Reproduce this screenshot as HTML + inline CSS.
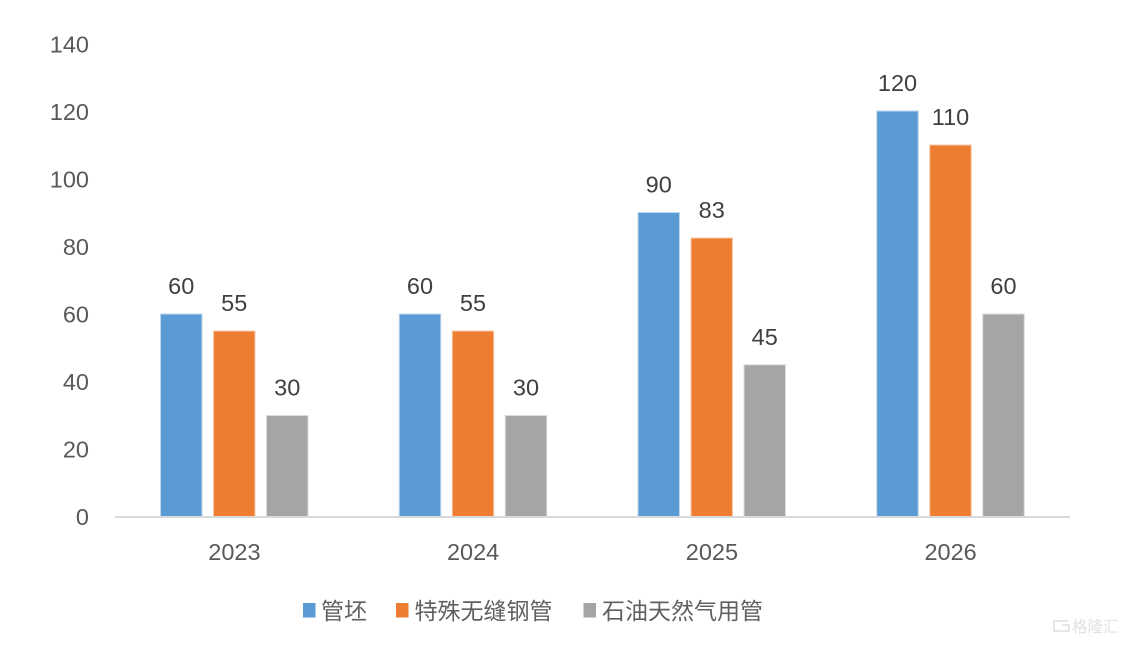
<!DOCTYPE html>
<html>
<head>
<meta charset="utf-8">
<style>
html,body{margin:0;padding:0;background:#fff;}
svg{display:block;}
.t{font-family:"Liberation Sans","Noto Sans CJK SC",sans-serif;}
</style>
</head>
<body>
<svg width="1126" height="646" viewBox="0 0 1126 646" xmlns="http://www.w3.org/2000/svg">
<rect width="1126" height="646" fill="#fff"/>
<!-- y tick labels -->
<g class="t" font-size="23.5" fill="#595959" text-anchor="end">
<text x="89" y="52.5">140</text>
<text x="89" y="120">120</text>
<text x="89" y="187.5">100</text>
<text x="89" y="255">80</text>
<text x="89" y="322.5">60</text>
<text x="89" y="390">40</text>
<text x="89" y="457.5">20</text>
<text x="89" y="525">0</text>
</g>
<!-- bars -->
<g stroke-width="1">
<rect x="160.5" y="314" width="41.5" height="203" fill="#5b9bd5" stroke="#bdd7ee"/>
<rect x="213.5" y="331" width="41.5" height="186" fill="#ed7d31" stroke="#f8cbad"/>
<rect x="266.5" y="415.5" width="41.5" height="101.5" fill="#a5a5a5" stroke="#dbdbdb"/>
<rect x="399.25" y="314" width="41.5" height="203" fill="#5b9bd5" stroke="#bdd7ee"/>
<rect x="452.25" y="331" width="41.5" height="186" fill="#ed7d31" stroke="#f8cbad"/>
<rect x="505.25" y="415.5" width="41.5" height="101.5" fill="#a5a5a5" stroke="#dbdbdb"/>
<rect x="638" y="212.5" width="41.5" height="304.5" fill="#5b9bd5" stroke="#bdd7ee"/>
<rect x="691" y="238" width="41.5" height="279" fill="#ed7d31" stroke="#f8cbad"/>
<rect x="744" y="364.8" width="41.5" height="152.2" fill="#a5a5a5" stroke="#dbdbdb"/>
<rect x="876.75" y="111" width="41.5" height="406" fill="#5b9bd5" stroke="#bdd7ee"/>
<rect x="929.75" y="145" width="41.5" height="372" fill="#ed7d31" stroke="#f8cbad"/>
<rect x="982.75" y="314" width="41.5" height="203" fill="#a5a5a5" stroke="#dbdbdb"/>
</g>
<!-- axis line -->
<line x1="115" y1="517" x2="1070" y2="517" stroke="#d9d9d9" stroke-width="2"/>
<!-- data labels -->
<g class="t" font-size="23.5" fill="#404040" text-anchor="middle">
<text x="181.25" y="294">60</text>
<text x="234.25" y="311">55</text>
<text x="287.25" y="395.5">30</text>
<text x="420" y="294">60</text>
<text x="473" y="311">55</text>
<text x="526" y="395.5">30</text>
<text x="658.75" y="192.5">90</text>
<text x="711.75" y="218">83</text>
<text x="764.75" y="344.8">45</text>
<text x="897.5" y="91">120</text>
<text x="950.5" y="125">110</text>
<text x="1003.5" y="294">60</text>
</g>
<!-- category labels -->
<g class="t" font-size="23.5" fill="#595959" text-anchor="middle">
<text x="234.4" y="560">2023</text>
<text x="473.1" y="560">2024</text>
<text x="711.9" y="560">2025</text>
<text x="950.6" y="560">2026</text>
</g>
<!-- legend -->
<rect x="303" y="603" width="12.5" height="14.5" fill="#5b9bd5"/>
<rect x="396" y="603" width="12.5" height="14.5" fill="#ed7d31"/>
<rect x="583.5" y="603" width="12.5" height="14.5" fill="#a5a5a5"/>
<g class="t" font-size="23" fill="#606060">
<text x="321" y="619">管坯</text>
<text x="414.5" y="619">特殊无缝钢管</text>
<text x="602" y="619">石油天然气用管</text>
</g>
<!-- watermark -->
<g fill="none" stroke="#dedede" stroke-width="1.5">
<path d="M1068 621 H1054 V631 H1069 V625 H1062"/>
</g>
<text class="t" x="1072" y="632" font-size="15.5" fill="#e2e2e2">格隆汇</text>
</svg>
</body>
</html>
